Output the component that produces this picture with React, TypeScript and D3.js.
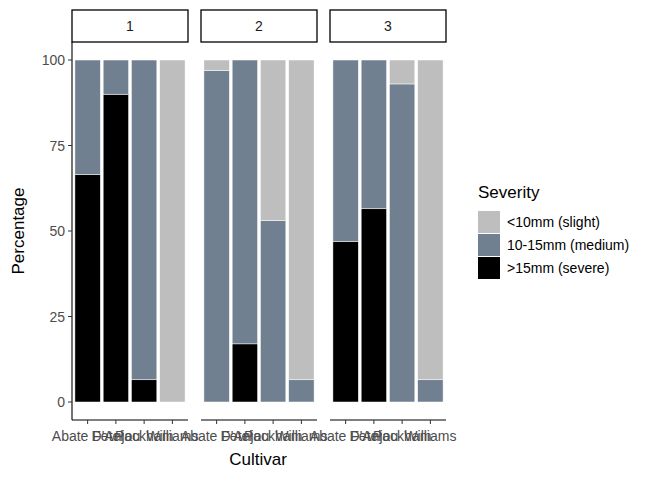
import * as d3 from 'd3';

const cultivars = ['Abate Fetel', "D'Anjou", 'Packham', 'Williams'];
const panels = ['1', '2', '3'];
const levels = ['>15mm (severe)', '10-15mm (medium)', '<10mm (slight)'];
const colors = ['#000000', '#708090', '#bebebe'];
// per panel, per cultivar: [severe, medium, slight]
const severe = [[66.5, 90, 6.5, 0], [0, 17, 0, 0], [47, 56.5, 0, 0]];
const medium = [[33.5, 10, 93.5, 0], [97, 83, 53, 6.5], [53, 43.5, 93, 6.5]];
const slight = [[0, 0, 0, 100], [3, 0, 47, 93.5], [0, 0, 7, 93.5]];
const yTicks = [0, 25, 50, 75, 100];

export default function App() {
  const y = d3.scaleLinear().domain([0, 100]).range([402, 60]);
  const panelX = [72, 201, 330];
  const pw = 116;
  const font = 'Liberation Sans, Arial, sans-serif';
  return (
    <svg width={672} height={480} style={{ position: 'absolute', left: 0, top: 0 }} fontFamily={font}>
      <rect width={672} height={480} fill="white" />
      {panels.map((p, pi) => {
        const x0 = panelX[pi];
        const x = d3.scaleBand().domain(cultivars).range([x0 + 1.5, x0 + pw - 1.5]).paddingInner(0.1).paddingOuter(0.05);
        const cx = (c: string) => (x(c) as number) + x.bandwidth() / 2;
        const bw = x.bandwidth();
        return (
          <g key={p}>
            <rect x={x0} y={10} width={pw} height={32} fill="white" stroke="black" strokeWidth={1.3} />
            <text x={x0 + pw / 2} y={31} textAnchor="middle" fontSize={14} fill="#1a1a1a">{p}</text>
            {cultivars.map((c, ci) => {
              const vals = [severe[pi][ci], medium[pi][ci], slight[pi][ci]];
              let acc = 0;
              return vals.map((v, li) => {
                const b = acc; acc += v;
                if (v <= 0) return null;
                return <rect key={c + li} x={cx(c) - bw / 2} y={y(acc)} width={bw} height={y(b) - y(acc)} fill={colors[li]} stroke="white" strokeWidth={0.5} />;
              });
            })}
            <line x1={x0} x2={x0 + pw} y1={420} y2={420} stroke="black" strokeWidth={1.1} />
            {cultivars.map(c => (
              <g key={c}>
                <line x1={cx(c)} x2={cx(c)} y1={420} y2={424} stroke="#333" />
                <text x={cx(c)} y={441} textAnchor="middle" fontSize={14} fill="#4d4d4d">{c}</text>
              </g>
            ))}
          </g>
        );
      })}
      <line x1={72} x2={72} y1={42} y2={420} stroke="black" strokeWidth={1.1} />
      {yTicks.map(t => (
        <g key={t}>
          <line x1={68} x2={72} y1={y(t)} y2={y(t)} stroke="#333" />
          <text x={65} y={y(t) + 5} textAnchor="end" fontSize={14} fill="#4d4d4d">{t}</text>
        </g>
      ))}
      <text x={258} y={465} textAnchor="middle" fontSize={17}>Cultivar</text>
      <text transform="translate(24,231) rotate(-90)" textAnchor="middle" fontSize={17}>Percentage</text>
      <text x={478} y={198} fontSize={17}>Severity</text>
      {[2, 1, 0].map((li, k) => (
        <g key={li}>
          <rect x={478} y={211 + k * 23} width={22} height={22} fill={colors[li]} />
          <text x={507} y={227 + k * 23} fontSize={14}>{levels[li]}</text>
        </g>
      ))}
    </svg>
  );
}
